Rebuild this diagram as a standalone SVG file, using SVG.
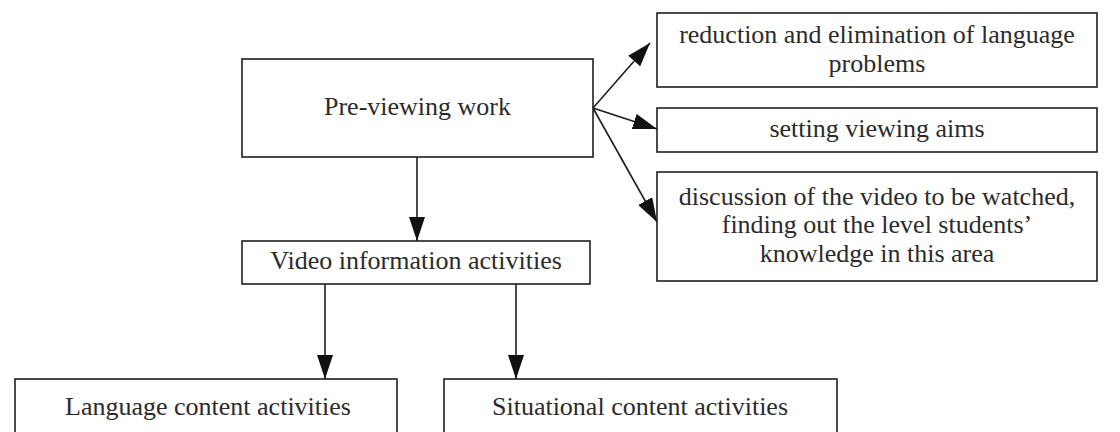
<svg xmlns="http://www.w3.org/2000/svg" width="1120" height="432" viewBox="0 0 1120 432">
  <style>
    .box { fill: #ffffff; stroke: #1e1e1e; stroke-width: 1.6; }
    .lbl { font-family: "Liberation Serif", "DejaVu Serif", serif; font-size: 26px; fill: #2b2b2b; text-anchor: middle; }
    .conn { stroke: #1e1e1e; stroke-width: 1.6; fill: none; marker-end: url(#arrow); }
  </style>
  <defs>
    <marker id="arrow" markerUnits="userSpaceOnUse" markerWidth="24" markerHeight="16" refX="24" refY="8" orient="auto">
      <path d="M0,0 L24,8 L0,16 z" fill="#111111"/>
    </marker>
  </defs>
  <rect width="1120" height="432" fill="#ffffff"/>

  <g id="connectors">
    <line class="conn" x1="593" y1="108" x2="650" y2="43"/>
    <line class="conn" x1="593" y1="108" x2="657" y2="129"/>
    <line class="conn" x1="593" y1="108" x2="657" y2="222"/>
    <line class="conn" x1="417" y1="157" x2="417" y2="241"/>
    <line class="conn" x1="325" y1="284" x2="325" y2="379"/>
    <line class="conn" x1="516" y1="284" x2="516" y2="379"/>
  </g>

  <g id="node-previewing">
    <rect class="box" x="242" y="59" width="351" height="98"/>
    <text class="lbl" x="417.5" y="115">Pre-viewing work</text>
  </g>

  <g id="node-reduction">
    <rect class="box" x="657" y="13" width="440" height="74"/>
    <text class="lbl" x="877" y="43">reduction and elimination of language</text>
    <text class="lbl" x="877" y="72">problems</text>
  </g>

  <g id="node-aims">
    <rect class="box" x="657" y="108" width="440" height="44"/>
    <text class="lbl" x="877" y="137">setting viewing aims</text>
  </g>

  <g id="node-discussion">
    <rect class="box" x="657" y="172" width="440" height="109"/>
    <text class="lbl" x="877" y="205">discussion of the video to be watched,</text>
    <text class="lbl" x="877" y="233">finding out the level students’</text>
    <text class="lbl" x="877" y="262">knowledge in this area</text>
  </g>

  <g id="node-video">
    <rect class="box" x="242" y="241" width="348" height="43"/>
    <text class="lbl" x="416" y="269">Video information activities</text>
  </g>

  <g id="node-language">
    <rect class="box" x="15" y="379" width="382" height="60"/>
    <text class="lbl" x="208" y="415">Language content activities</text>
  </g>

  <g id="node-situational">
    <rect class="box" x="444" y="379" width="393" height="60"/>
    <text class="lbl" x="640" y="415">Situational content activities</text>
  </g>
</svg>
